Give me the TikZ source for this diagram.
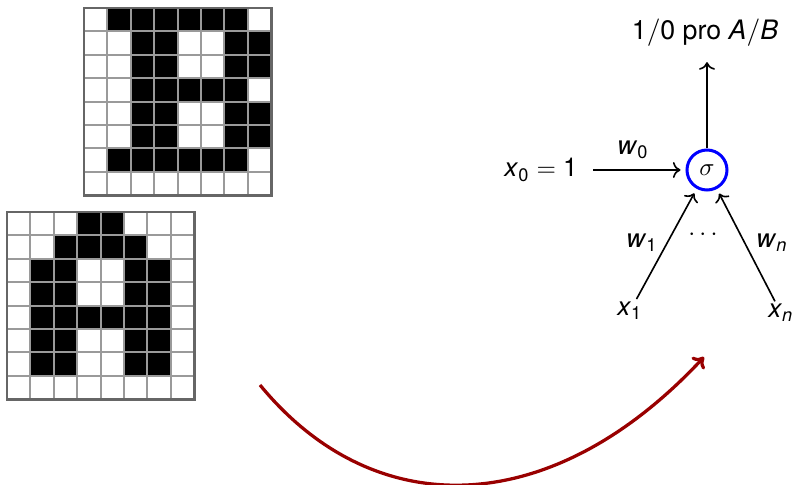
\documentclass[tikz,border=0pt]{standalone}
\usepackage{amsmath}
\usepackage{fontspec}
\setsansfont{TeX Gyre Heros}
\usetikzlibrary{arrows.meta}
\newcommand\sv[1]{\textsf{\textit{#1}}}
\newcommand\sn[1]{\textsf{#1}}
\definecolor{curvered}{HTML}{990000}
\definecolor{gridgray}{HTML}{9A9A9A}
\definecolor{bordergray}{HTML}{666666}
\tikzset{
  cellfill/.style={fill=black},
  gridline/.style={draw=gridgray, line width=0.75pt},
  gridborder/.style={draw=bordergray, line width=1.1pt},
  neuron/.style={circle, draw=blue, line width=1.2pt, minimum size=16pt, inner sep=0pt},
  lbl/.style={inner sep=1pt},
  conn/.style={->, line width=0.65pt},
  bigarrow/.style={-{To[length=4pt,width=7pt]}, draw=curvered, line width=1.3pt},
}
\newcommand\pixgrid[3]{%
  \foreach \rowdata [count=\r from 0] in {#3} {
    \foreach \v [count=\c from 0] in \rowdata {
      \ifnum\v=1 \fill[cellfill] ({#1+\c*23.4},{#2+\r*23.4}) rectangle ++(23.4,23.4); \fi
    }
  }
  \foreach \i in {1,...,7} {
    \draw[gridline] ({#1+\i*23.4},#2) -- ++(0,187.2);
    \draw[gridline] (#1,{#2+\i*23.4}) -- ++(187.2,0);
  }
  \draw[gridborder] (#1,#2) rectangle ++(187.2,187.2);
}
\begin{document}
\begin{tikzpicture}[x=0.4pt,y=-0.4pt,font=\sffamily\fontsize{10.4}{12}\selectfont]
\useasboundingbox (0,0) rectangle (795,485);
% B grid
\pixgrid{84}{8}{{0,1,1,1,1,1,1,0},{0,0,1,1,0,0,1,1},{0,0,1,1,0,0,1,1},{0,0,1,1,1,1,1,0},{0,0,1,1,0,0,1,1},{0,0,1,1,0,0,1,1},{0,1,1,1,1,1,1,0},{0,0,0,0,0,0,0,0}}
% A grid
\pixgrid{7}{212}{{0,0,0,1,1,0,0,0},{0,0,1,1,1,1,0,0},{0,1,1,0,0,1,1,0},{0,1,1,0,0,1,1,0},{0,1,1,1,1,1,1,0},{0,1,1,0,0,1,1,0},{0,1,1,0,0,1,1,0},{0,0,0,0,0,0,0,0}}
% neuron
\node[neuron] (sigma) at (707,170) {$\sigma$};
\node[lbl] (x0) at (541,170) {$\sv{x}_{\sn{0}} = \sn{1}$};
\node[lbl, font=\sffamily\fontsize{10.7}{12}\selectfont] (out) at (705,33) {$\sn{1}/\sn{0}$ pro $\sv{A}/\sv{B}$};
\node[lbl] (x1) at (630,311) {$\sv{x}_{\sn{1}}$};
\node[lbl] (xn) at (781,313) {$\sv{x}_{\sv{n}}$};
\node[lbl] (w0) at (633,150) {$\sv{w}_{\sn{0}}$};
\node[lbl] (w1) at (642,243) {$\sv{w}_{\sn{1}}$};
\node[lbl] (wn) at (772,243) {$\sv{w}_{\sv{n}}$};
\node[lbl] (dots) at (705,235) {$\cdots$};
\coordinate (outfoot) at (sigma |- out.south);
\draw[conn, shorten <=5pt, shorten >=2pt] (x0) -- (sigma);
\draw[conn, shorten >=5pt] (sigma) -- (outfoot);
\draw[conn, shorten >=2pt] (x1) -- (sigma);
\draw[conn, shorten >=2pt] (xn) -- (sigma);
% curved arrow
\coordinate (cs) at (260,385);
\coordinate (ce) at (704,357);
\draw[bigarrow] (cs) .. controls (375,525) and (552,520) .. (ce);
\end{tikzpicture}
\end{document}
